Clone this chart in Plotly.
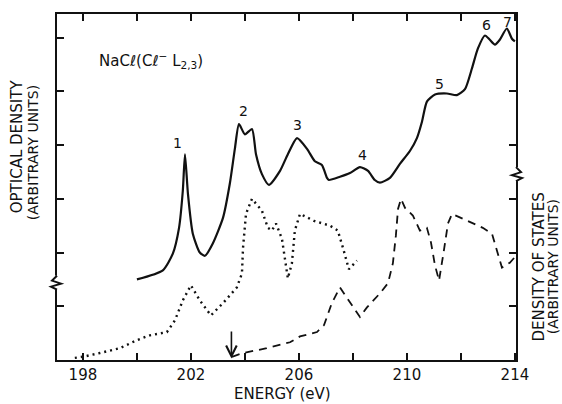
import plotly.graph_objects as go

# ---- data ----
od_energy = [200.0, 200.96, 201.33, 201.56, 201.70, 201.78, 201.89, 202.07, 202.33, 202.52,
             202.81, 203.19, 203.44, 203.63, 203.78, 204.00, 204.26, 204.41, 204.63, 204.89,
             205.30, 205.59, 205.93, 206.30, 206.59, 206.85, 207.04, 207.11, 207.52, 207.89,
             208.26, 208.56, 208.81, 209.00, 209.37, 209.74, 210.11, 210.37, 210.56, 210.74,
             211.04, 211.48, 211.85, 212.15, 212.41, 212.63, 212.89, 213.07, 213.26, 213.44,
             213.70, 213.89, 214.00]
od_value = [1.50, 1.67, 1.98, 2.46, 3.15, 3.83, 3.09, 2.35, 2.00, 1.94,
            2.17, 2.65, 3.28, 3.94, 4.39, 4.20, 4.30, 3.83, 3.46, 3.26,
            3.52, 3.83, 4.13, 3.93, 3.70, 3.63, 3.39, 3.35, 3.41, 3.48,
            3.59, 3.52, 3.35, 3.30, 3.39, 3.65, 3.89, 4.13, 4.44, 4.81,
            4.94, 4.96, 4.93, 5.04, 5.43, 5.80, 6.04, 5.96, 5.87, 5.96,
            6.17, 5.98, 5.93]

dos1_energy = [197.70, 198.00, 198.63, 199.37, 200.00, 200.48, 201.11, 201.41, 201.70, 202.00,
               202.33, 202.74, 203.19, 203.70, 203.89, 203.93, 204.04, 204.26, 204.63, 204.85,
               205.00, 205.15, 205.37, 205.48, 205.59, 205.74, 205.85, 206.04, 206.56, 207.15,
               207.44, 207.63, 207.78, 207.85, 208.15]
dos1_value = [0.04, 0.06, 0.13, 0.22, 0.37, 0.46, 0.52, 0.74, 1.11, 1.39,
              1.11, 0.83, 1.06, 1.35, 1.61, 2.09, 2.72, 3.00, 2.78, 2.46,
              2.41, 2.54, 2.26, 1.85, 1.52, 1.80, 2.41, 2.72, 2.59, 2.50,
              2.41, 2.09, 1.81, 1.69, 1.85]

dos2_energy = [203.52, 203.93, 204.81, 205.67, 206.04, 206.67, 206.93, 207.22, 207.52, 207.85,
               208.26, 208.52, 209.00, 209.30, 209.48, 209.59, 209.67, 209.78, 209.93, 210.22,
               210.48, 210.74, 210.89, 211.04, 211.19, 211.37, 211.52, 211.67, 212.07, 212.81,
               213.15, 213.33, 213.52, 213.81, 214.04]
dos2_value = [0.06, 0.13, 0.22, 0.33, 0.44, 0.52, 0.65, 1.06, 1.35, 1.11,
              0.80, 0.98, 1.24, 1.43, 1.80, 2.31, 2.81, 3.00, 2.83, 2.69,
              2.41, 2.46, 2.19, 1.76, 1.48, 2.04, 2.54, 2.72, 2.63, 2.46,
              2.35, 2.04, 1.72, 1.81, 1.94]

peak_labels = ["1", "2", "3", "4", "5", "6", "7"]
peak_label_x = [201.52, 203.96, 205.96, 208.37, 211.19, 212.96, 213.74]
peak_label_y = [4.04, 4.63, 4.37, 3.81, 5.13, 6.24, 6.30]

x_tick_vals = [198, 200, 202, 204, 206, 208, 210, 212, 214]
x_tick_text = ["198", "", "202", "", "206", "", "210", "", "214"]
left_tick_vals = [1, 2, 3, 4, 5, 6]
right_tick_vals = [1, 2, 3, 4, 5]

X_RANGE = [197.04, 214.04]
Y_RANGE = [0, 6.44]
ARROW_E = 203.5
LEFT_BREAK_Y = 1.44
RIGHT_BREAK_Y = 3.46

FONT = "DejaVu Sans"
INK = "#111111"

fig = go.Figure()
fig.add_trace(go.Scatter(x=od_energy, y=od_value, mode="lines",
                         line=dict(color=INK, width=2.2, shape="spline", smoothing=0.6),
                         hoverinfo="skip", showlegend=False))
fig.add_trace(go.Scatter(x=dos1_energy, y=dos1_value, mode="lines",
                         line=dict(color=INK, width=2.4, dash="2px,4px"),
                         hoverinfo="skip", showlegend=False))
fig.add_trace(go.Scatter(x=dos2_energy, y=dos2_value, mode="lines", yaxis="y2",
                         line=dict(color=INK, width=1.8, dash="8px,6px"),
                         hoverinfo="skip", showlegend=False))

axis_common = dict(showgrid=False, zeroline=False, showline=True, linecolor=INK,
                   linewidth=2, ticks="inside", tickcolor=INK, tickwidth=2, ticklen=7)

fig.update_layout(
    width=562, height=404,
    margin=dict(l=57, r=46, t=12, b=44),
    paper_bgcolor="white", plot_bgcolor="white",
    font=dict(family=FONT, color=INK, size=15),
    xaxis=dict(range=X_RANGE, tickvals=x_tick_vals, ticktext=x_tick_text,
               mirror="ticks", tickfont=dict(size=15, family=FONT, color=INK), **axis_common),
    yaxis=dict(range=Y_RANGE, tickvals=left_tick_vals, showticklabels=False, **axis_common),
    yaxis2=dict(range=Y_RANGE, tickvals=right_tick_vals, showticklabels=False,
                overlaying="y", side="right", **axis_common),
)

# peak labels
for t, xv, yv in zip(peak_labels, peak_label_x, peak_label_y):
    fig.add_annotation(x=xv, y=yv, text=t, showarrow=False,
                       font=dict(size=14, family=FONT, color=INK))

# title inside the plot
fig.add_annotation(x=198.52, y=5.58, xanchor="left", yanchor="middle",
                   text="NaCℓ(Cℓ<sup>−</sup> L<sub>2,3</sub>)", showarrow=False,
                   font=dict(size=15, family=FONT, color=INK))

# arrow at the onset
fig.add_annotation(x=ARROW_E, y=0.03, ax=ARROW_E, ay=0.56, axref="x", ayref="y",
                   xref="x", yref="y", showarrow=True, arrowhead=5, arrowsize=1.3,
                   arrowwidth=1.6, arrowcolor=INK, text="")

# axis titles
def side_label(x, y, text, size, angle=-90):
    fig.add_annotation(xref="paper", yref="paper", x=x, y=y, xanchor="center",
                       yanchor="middle", text=text, textangle=angle, showarrow=False,
                       font=dict(size=size, family=FONT, color=INK))

side_label(-0.087, 0.618, "OPTICAL DENSITY", 15)
side_label(-0.052, 0.598, "(ARBITRARY UNITS)", 14)
side_label(1.050, 0.27, "DENSITY OF STATES", 15)
side_label(1.080, 0.27, "(ARBITRARY UNITS)", 14)
side_label(0.492, -0.098, "ENERGY (eV)", 15, angle=0)

# axis break marks
px_x = 1 / 459.0
px_y = (Y_RANGE[1] - Y_RANGE[0]) / 348.0
for side, by, sgn in [(0.0, LEFT_BREAK_Y, -1), (1.0, RIGHT_BREAK_Y, 1)]:
    fig.add_shape(type="line", xref="paper", yref="y", x0=side, x1=side,
                  y0=by - 7 * px_y, y1=by + 7 * px_y, line=dict(color="white", width=4))
    path = (f"M {side},{by + 7 * px_y} "
            f"L {side + sgn * 5 * px_x},{by + 2 * px_y} "
            f"L {side - sgn * 4 * px_x},{by - 1 * px_y} "
            f"L {side + sgn * 6 * px_x},{by - 4 * px_y} "
            f"L {side},{by - 7 * px_y}")
    fig.add_shape(type="path", xref="paper", yref="y", path=path,
                  line=dict(color=INK, width=2))

fig.write_html("out.html", config={"displayModeBar": False},
               post_script="document.body.style.margin='0px';document.body.style.overflow='hidden';")
